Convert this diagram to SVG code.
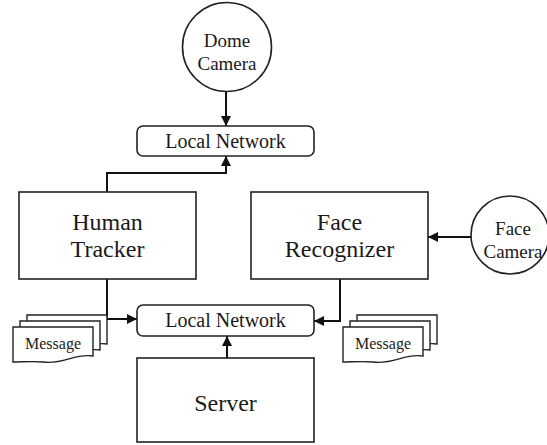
<svg xmlns="http://www.w3.org/2000/svg" width="547" height="445" viewBox="0 0 547 445">
<style>
.box{fill:#fff;stroke:#222;stroke-width:1.6}
.sheet{fill:#fff;stroke:#222;stroke-width:1.4}
.t{font-family:"Liberation Serif","Times New Roman",serif;fill:#1a1a1a;text-anchor:middle}
.big{font-size:24px}
.mid{font-size:20px}
.cam{font-size:19px}
.msg{font-size:16px}
.c{fill:none;stroke:#111;stroke-width:2}
</style>
<defs>
<marker id="ah" viewBox="0 0 10 10" refX="10" refY="5" markerWidth="10" markerHeight="10" markerUnits="userSpaceOnUse" orient="auto">
<path d="M0,0 L10,5 L0,10 z" fill="#111"/>
</marker>
<path id="doc" d="M0,0 H80 V29 C62,26 50,38 30,35 C20,34 8,35 0,35 Z"/>
</defs>
<g id="connectors">
<path class="c" d="M226,92 V126" marker-end="url(#ah)"/>
<path class="c" d="M107,192 V173 H226 V156" marker-end="url(#ah)"/>
<path class="c" d="M107,279 V319 H137" marker-end="url(#ah)"/>
<path class="c" d="M340,279 V321 H314" marker-end="url(#ah)"/>
<path class="c" d="M227,358 V336" marker-end="url(#ah)"/>
<path class="c" d="M471,237 H428" marker-end="url(#ah)"/>
</g>
<g id="dome-camera">
<circle class="box" cx="227" cy="47" r="44.5"/>
<text class="t cam" x="227" y="47">Dome</text>
<text class="t cam" x="227" y="70">Camera</text>
</g>
<g id="local-network-top">
<rect class="box" x="137" y="126" width="177" height="30" rx="6"/>
<text class="t mid" x="225.5" y="148">Local Network</text>
</g>
<g id="human-tracker">
<rect class="box" x="19" y="192" width="177" height="87"/>
<text class="t big" x="107.5" y="230">Human</text>
<text class="t big" x="107.5" y="257">Tracker</text>
</g>
<g id="face-recognizer">
<rect class="box" x="251" y="192" width="177" height="87"/>
<text class="t big" x="339.5" y="230">Face</text>
<text class="t big" x="339.5" y="257">Recognizer</text>
</g>
<g id="face-camera">
<circle class="box" cx="510" cy="235" r="39"/>
<text class="t cam" x="513" y="235">Face</text>
<text class="t cam" x="513" y="258">Camera</text>
</g>
<g id="local-network-bottom">
<rect class="box" x="137" y="305" width="177" height="31" rx="6"/>
<text class="t mid" x="225.5" y="327">Local Network</text>
</g>
<g id="message-left">
<use href="#doc" class="sheet" transform="translate(27,315)"/>
<use href="#doc" class="sheet" transform="translate(20,321)"/>
<use href="#doc" class="sheet" transform="translate(13,327)"/>
<text class="t msg" x="53" y="349">Message</text>
</g>
<g id="message-right">
<use href="#doc" class="sheet" transform="translate(357,315)"/>
<use href="#doc" class="sheet" transform="translate(350,321)"/>
<use href="#doc" class="sheet" transform="translate(343,327)"/>
<text class="t msg" x="383" y="349">Message</text>
</g>
<g id="server">
<rect class="box" x="137" y="358" width="177" height="84"/>
<text class="t big" x="225.5" y="411">Server</text>
</g>
</svg>
